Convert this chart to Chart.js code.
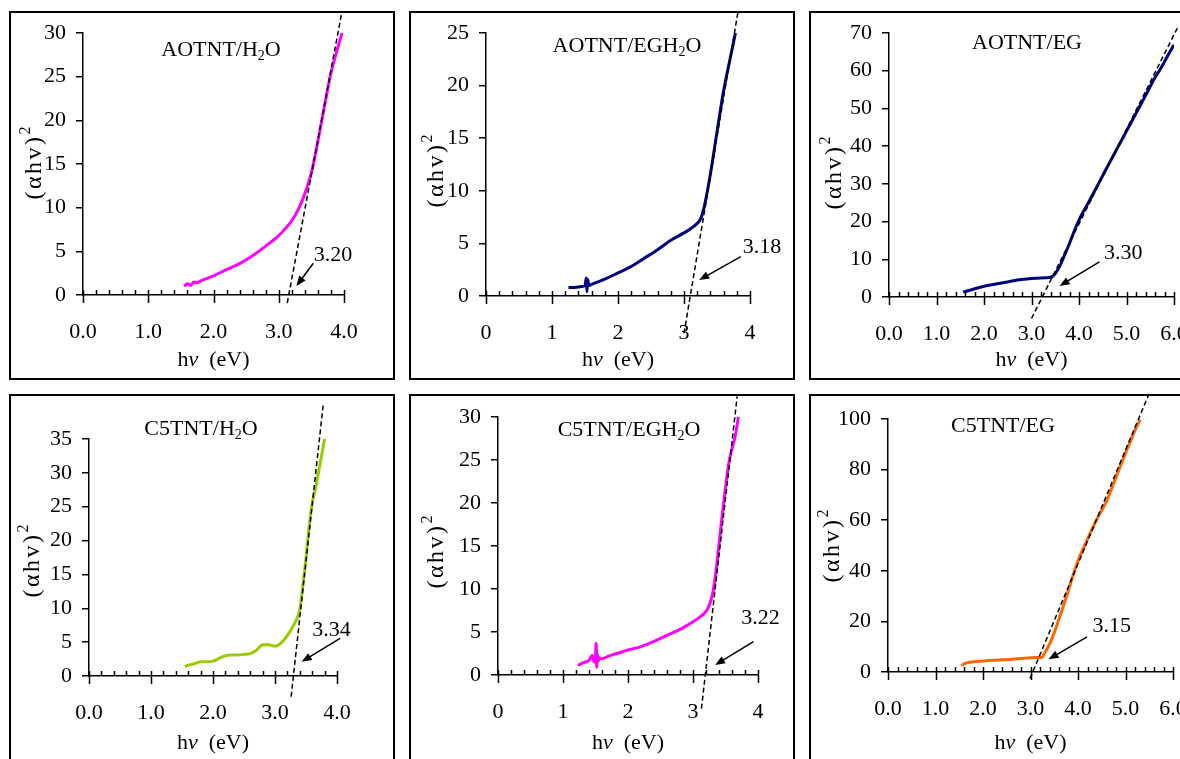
<!DOCTYPE html>
<html>
<head>
<meta charset="utf-8">
<script src="https://cdn.jsdelivr.net/npm/chart.js@4/dist/chart.umd.min.js"></script>
<style>
html, body { margin: 0; padding: 0; background: #fff; width: 1180px; height: 759px; overflow: hidden; position: relative; }
canvas { position: absolute; }
</style>
</head>
<body>
<canvas id="c0" width="386" height="369" style="left:9px;top:11px"></canvas>
<canvas id="c1" width="386" height="369" style="left:409px;top:11px"></canvas>
<canvas id="c2" width="386" height="369" style="left:809px;top:11px"></canvas>
<canvas id="c3" width="386" height="369" style="left:9px;top:394px"></canvas>
<canvas id="c4" width="386" height="369" style="left:409px;top:394px"></canvas>
<canvas id="c5" width="386" height="369" style="left:809px;top:394px"></canvas>
<script>
// courbes (αhν)² en fonction de hν
var aoH2oX = [1.55, 1.6, 1.65, 1.7, 1.75, 1.8, 2.0, 2.2, 2.4, 2.6, 2.8, 3.0, 3.1, 3.2, 3.3, 3.4, 3.5, 3.6, 3.7, 3.8, 3.9, 3.97];
var aoH2oY = [1.0, 1.3, 1.1, 1.5, 1.4, 1.6, 2.2, 2.9, 3.6, 4.5, 5.6, 6.8, 7.6, 8.5, 9.8, 11.6, 14.0, 17.6, 21.6, 25.4, 28.2, 30.0];

var aoEghX = [1.25, 1.3, 1.4, 1.45, 1.5, 1.52, 1.53, 1.54, 1.56, 1.6, 1.8, 2.0, 2.2, 2.4, 2.6, 2.8, 3.0, 3.1, 3.2, 3.25, 3.3, 3.4, 3.5, 3.6, 3.7, 3.78];
var aoEghY = [0.8, 0.8, 0.85, 0.9, 1.0, 1.7, 0.4, 1.6, 1.0, 1.1, 1.6, 2.2, 2.8, 3.6, 4.4, 5.3, 6.0, 6.4, 6.9, 7.3, 8.3, 11.6, 15.6, 19.5, 22.6, 25.0];

var aoEgX = [1.56, 1.7, 1.9, 2.1, 2.3, 2.5, 2.7, 2.9, 3.1, 3.3, 3.42, 3.5, 3.6, 3.7, 3.8, 3.9, 4.0, 4.2, 4.4, 4.6, 4.8, 5.0, 5.2, 5.4, 5.6, 5.7, 5.8, 5.9, 6.0];
var aoEgY = [1.3, 1.8, 2.5, 3.1, 3.6, 4.0, 4.5, 4.8, 5.0, 5.1, 5.3, 6.2, 8.3, 11.2, 14.2, 17.5, 20.4, 25.1, 29.8, 34.6, 39.3, 44.0, 48.7, 53.4, 58.2, 60.2, 62.4, 64.7, 66.9];

var c5H2oX = [1.55, 1.6, 1.7, 1.8, 1.9, 2.0, 2.1, 2.2, 2.3, 2.4, 2.5, 2.6, 2.7, 2.8, 2.9, 3.0, 3.1, 3.2, 3.3, 3.35, 3.4, 3.45, 3.5, 3.55, 3.6, 3.65, 3.7, 3.75, 3.8];
var c5H2oY = [1.4, 1.6, 1.8, 2.1, 2.1, 2.2, 2.6, 3.0, 3.1, 3.1, 3.2, 3.3, 3.8, 4.6, 4.6, 4.4, 4.9, 6.0, 7.5, 8.4, 9.8, 13.5, 17.4, 22.0, 25.5, 27.5, 30.0, 32.5, 35.0];

var c5EghX = [1.23, 1.3, 1.4, 1.45, 1.48, 1.5, 1.51, 1.52, 1.53, 1.54, 1.56, 1.6, 1.7, 1.83, 2.0, 2.2, 2.4, 2.6, 2.8, 3.0, 3.1, 3.2, 3.25, 3.3, 3.35, 3.4, 3.45, 3.5, 3.55, 3.6, 3.65, 3.7];
var c5EghY = [1.1, 1.4, 1.7, 2.3, 1.5, 2.0, 3.7, 0.9, 2.4, 1.6, 2.0, 1.9, 2.2, 2.5, 2.9, 3.3, 3.9, 4.6, 5.3, 6.2, 6.7, 7.4, 8.1, 9.4, 11.8, 15.2, 18.6, 21.8, 24.6, 26.3, 27.8, 30.1];

var c5EgX = [1.55, 1.6, 1.7, 1.8, 2.0, 2.2, 2.4, 2.6, 2.8, 3.0, 3.1, 3.2, 3.25, 3.3, 3.4, 3.5, 3.6, 3.7, 3.8, 3.9, 4.0, 4.2, 4.4, 4.6, 4.8, 5.0, 5.2, 5.31];
var c5EgY = [2.5, 3.2, 3.8, 4.0, 4.3, 4.6, 4.8, 5.0, 5.3, 5.6, 5.7, 5.7, 6.0, 7.5, 11.0, 15.5, 21.0, 26.5, 32.4, 38.5, 44.0, 52.5, 60.5, 67.5, 77.0, 86.5, 95.5, 99.8];

// droites d'extrapolation (tirets)
var fitX = [[3.13, 3.97], [3.0, 3.82], [3.0, 6.09], [3.26, 3.78], [3.13, 3.68], [2.99, 5.49]];
var fitY = [[-0.92, 32.5], [-3.55, 27.1], [-5.7, 71.8], [-3.06, 40.3], [-3.9, 32.4], [-2.6, 109.7]];

// axes
var xMax = [4, 4, 6, 4, 4, 6];
var yMax = [30, 25, 70, 35, 30, 100];
var yStep = [5, 5, 10, 5, 5, 20];
var xDecimals = [1, 0, 1, 1, 0, 1];

// textes
var gapLabels = ['3.20', '3.18', '3.30', '3.34', '3.22', '3.15'];
var titles = [
    [['AOTNT/H'], ['2', 'sub'], ['O']],
    [['AOTNT/EGH'], ['2', 'sub'], ['O']],
    [['AOTNT/EG']],
    [['C5TNT/H'], ['2', 'sub'], ['O']],
    [['C5TNT/EGH'], ['2', 'sub'], ['O']],
    [['C5TNT/EG']]
];
var colors = ['#ff00ff', '#000080', '#000080', '#99cc00', '#ff00ff', '#ff6600'];

// mise en page de chaque cadre (pixels dans le cadre)
var layouts = [
    { area: { l: 74, t: 22, r: 335, b: 284 }, title: [212, 39], yTitle: [26, 152] },
    { area: { l: 77, t: 22, r: 341, b: 285 }, title: [218, 35], yTitle: [28, 160] },
    { area: { l: 80, t: 22, r: 365, b: 286 }, title: [218, 32], yTitle: [26, 162] },
    { area: { l: 80, t: 45, r: 328, b: 282 }, title: [192, 35], yTitle: [24, 167] },
    { area: { l: 89, t: 23, r: 349, b: 281 }, title: [220, 36], yTitle: [28, 158] },
    { area: { l: 79, t: 25, r: 364, b: 278 }, title: [194, 32], yTitle: [24, 152] }
];
// position de l'étiquette et de la flèche, en unités des axes
var notes = [
    { text: [3.83, 4.6], from: [3.53, 3.63], to: [3.27, 1.03] },
    { text: [4.18, 4.6], from: [3.86, 3.74], to: [3.23, 1.52] },
    { text: [4.93, 11.6], from: [4.43, 9.3], to: [3.59, 2.9] },
    { text: [3.91, 6.8], from: [4.05, 5.57], to: [3.43, 2.1] },
    { text: [4.04, 6.6], from: [3.93, 3.88], to: [3.34, 1.16] },
    { text: [4.71, 17.9], from: [4.19, 13.9], to: [3.38, 5.0] }
];

var curvesX = [aoH2oX, aoEghX, aoEgX, c5H2oX, c5EghX, c5EgX];
var curvesY = [aoH2oY, aoEghY, aoEgY, c5H2oY, c5EghY, c5EgY];

var FONT = '"Liberation Serif", "Times New Roman", serif';
Chart.defaults.font.family = FONT;
Chart.defaults.font.size = 22;
Chart.defaults.color = '#000';

function toPoints(xs, ys) {
    return xs.map(function(v, i) { return { x: v, y: ys[i] }; });
}

function fontFor(kind, size) {
    if (kind === 'sub' || kind === 'sup') return Math.round(size * 0.65) + 'px ' + FONT;
    if (kind === 'it') return 'italic ' + size + 'px ' + FONT;
    return size + 'px ' + FONT;
}

// texte avec indices / exposants, centré en (cx, cy), espacement optionnel entre lettres
function drawParts(ctx, parts, cx, cy, size, spacing) {
    spacing = spacing || 0;
    var chars = [];
    parts.forEach(function(p) {
        if (spacing) {
            Array.from(p[0]).forEach(function(c) { chars.push([c, p[1]]); });
        } else {
            chars.push(p);
        }
    });
    var w = 0;
    chars.forEach(function(p, k) {
        ctx.font = fontFor(p[1], size);
        w += ctx.measureText(p[0]).width + (k < chars.length - 1 ? spacing : 0);
    });
    var xx = cx - w / 2;
    ctx.textAlign = 'left';
    ctx.textBaseline = 'middle';
    chars.forEach(function(p) {
        ctx.font = fontFor(p[1], size);
        var dy = p[1] === 'sub' ? size * 0.28 : (p[1] === 'sup' ? -size * 0.4 : 0);
        ctx.fillText(p[0], xx, cy + dy);
        xx += ctx.measureText(p[0]).width + spacing;
    });
}

function makeDecor(i) {
    var lay = layouts[i];
    var note = notes[i];
    return {
        id: 'decor' + i,
        beforeDraw: function(chart) {
            var ctx = chart.ctx;
            ctx.save();
            ctx.strokeStyle = '#000';
            ctx.lineWidth = 2;
            ctx.strokeRect(1, 1, chart.width - 2, chart.height - 2);
            ctx.restore();
        },
        afterDraw: function(chart) {
            var ctx = chart.ctx;
            var xs = chart.scales.x, ys = chart.scales.y;
            var y0 = ys.getPixelForValue(0);
            ctx.save();
            ctx.strokeStyle = '#000';
            ctx.fillStyle = '#000';
            ctx.lineWidth = 1.5;
            // graduations de l'axe x : mineures tous les 0.2
            for (var k = 0; k <= xMax[i] * 5; k++) {
                var px = Math.round(xs.getPixelForValue(k / 5)) + 0.5;
                ctx.beginPath();
                ctx.moveTo(px, y0 - 5);
                ctx.lineTo(px, k % 5 === 0 ? y0 + 8 : y0);
                ctx.stroke();
            }
            // titre
            drawParts(ctx, titles[i], lay.title[0], lay.title[1], 22);
            // titre axe x
            var cx = (chart.chartArea.left + chart.chartArea.right) / 2;
            drawParts(ctx, [['h'], ['\u03bd', 'it'], ['  (eV)']], cx, 349, 22);
            // titre axe y
            ctx.save();
            ctx.translate(lay.yTitle[0], lay.yTitle[1]);
            ctx.rotate(-Math.PI / 2);
            drawParts(ctx, [['(\u03b1hv)'], ['2', 'sup']], 0, 0, 24, 2.5);
            ctx.restore();
            // valeur du gap et flèche
            ctx.font = '22px ' + FONT;
            ctx.textAlign = 'center';
            ctx.textBaseline = 'middle';
            ctx.fillText(gapLabels[i], xs.getPixelForValue(note.text[0]), ys.getPixelForValue(note.text[1]));
            var ax = xs.getPixelForValue(note.from[0]), ay = ys.getPixelForValue(note.from[1]);
            var bx = xs.getPixelForValue(note.to[0]), by = ys.getPixelForValue(note.to[1]);
            var ang = Math.atan2(by - ay, bx - ax);
            ctx.beginPath();
            ctx.moveTo(ax, ay);
            ctx.lineTo(bx - 6 * Math.cos(ang), by - 6 * Math.sin(ang));
            ctx.stroke();
            ctx.beginPath();
            ctx.moveTo(bx, by);
            ctx.lineTo(bx - 10 * Math.cos(ang) + 4 * Math.sin(ang), by - 10 * Math.sin(ang) - 4 * Math.cos(ang));
            ctx.lineTo(bx - 10 * Math.cos(ang) - 4 * Math.sin(ang), by - 10 * Math.sin(ang) + 4 * Math.cos(ang));
            ctx.closePath();
            ctx.fill();
            ctx.restore();
        }
    };
}

for (var i = 0; i < 6; i++) {
    (function(i) {
        var canvas = document.getElementById('c' + i);
        var W = canvas.width, H = canvas.height;
        var a = layouts[i].area;
        new Chart(canvas.getContext('2d'), {
            type: 'scatter',
            data: {
                datasets: [{
                    data: toPoints(fitX[i], fitY[i]),
                    showLine: true,
                    borderColor: '#000',
                    borderWidth: 1.5,
                    borderDash: [5, 3],
                    pointRadius: 0,
                    clip: false
                }, {
                    data: toPoints(curvesX[i], curvesY[i]),
                    showLine: true,
                    borderColor: colors[i],
                    borderWidth: 3,
                    pointRadius: 0,
                    cubicInterpolationMode: 'monotone'
                }]
            },
            options: {
                responsive: false,
                animation: false,
                events: [],
                layout: { padding: { left: 0, top: a.t, right: W - a.r, bottom: 0 } },
                plugins: { legend: { display: false }, tooltip: { enabled: false } },
                scales: {
                    x: {
                        type: 'linear',
                        min: 0,
                        max: xMax[i],
                        ticks: {
                            stepSize: 1,
                            padding: 24,
                            maxRotation: 0,
                            autoSkip: false,
                            callback: function(v) { return v.toFixed(xDecimals[i]); }
                        },
                        grid: { display: true, drawOnChartArea: false, drawTicks: false, color: '#000' },
                        border: { display: true, color: '#000', width: 1.5 },
                        afterFit: function(s) { s.height = H - a.b; s.paddingLeft = 0; s.paddingRight = 0; }
                    },
                    y: {
                        min: 0,
                        max: yMax[i],
                        ticks: { stepSize: yStep[i], padding: 10 },
                        grid: { display: true, drawOnChartArea: false, drawTicks: true, tickLength: 7, color: '#000', lineWidth: 1.5 },
                        border: { display: true, color: '#000', width: 1.5 },
                        afterFit: function(s) { s.width = a.l; s.paddingTop = 0; s.paddingBottom = 0; }
                    }
                }
            },
            plugins: [makeDecor(i)]
        });
    })(i);
}
</script>
</body>
</html>
